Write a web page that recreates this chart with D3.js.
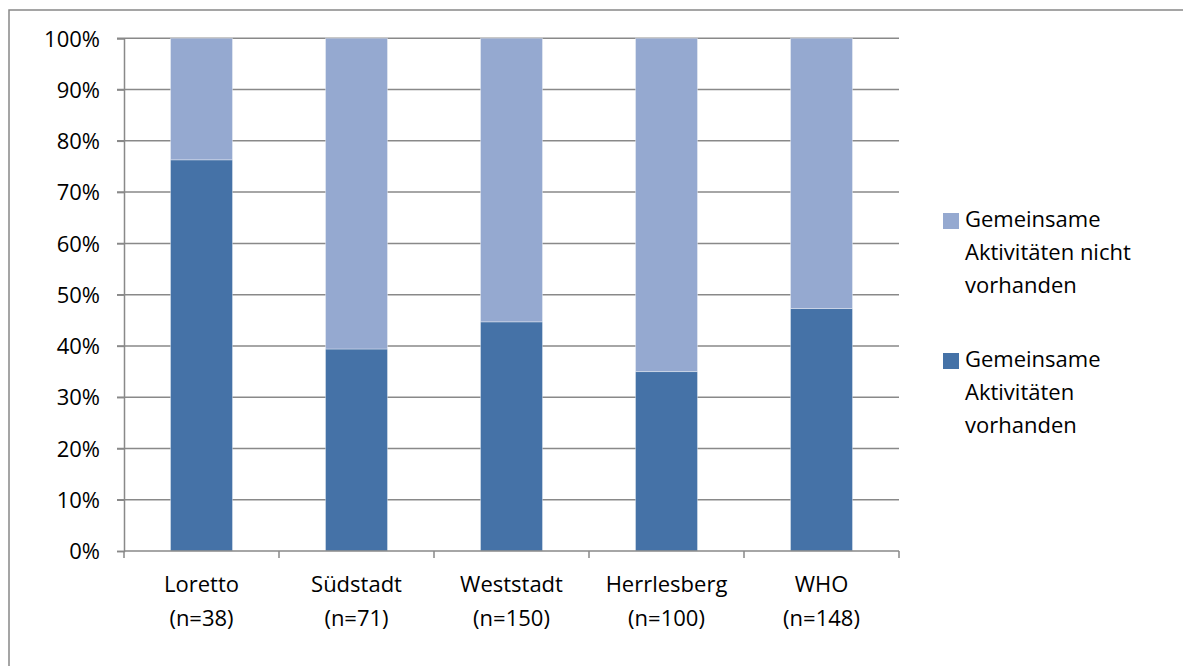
<!DOCTYPE html>
<html>
<head>
<meta charset="utf-8">
<script src="https://cdn.jsdelivr.net/npm/d3@7"></script>
<style>
html,body{margin:0;padding:0;background:#fff;}
svg{display:block;font-family:"Open Sans",sans-serif;}
</style>
</head>
<body>
<svg id="chart" width="1183" height="666"></svg>
<script>
const categories = ["Loretto", "Südstadt", "Weststadt", "Herrlesberg", "WHO"];
const categorySubLabels = ["(n=38)", "(n=71)", "(n=150)", "(n=100)", "(n=148)"];
const vorhanden = [0.763, 0.394, 0.447, 0.350, 0.473];
const nichtVorhanden = [0.237, 0.606, 0.553, 0.650, 0.527];
const seriesNames = ["Gemeinsame Aktivitäten vorhanden", "Gemeinsame Aktivitäten nicht vorhanden"];
const yTicks = [0, 0.1, 0.2, 0.3, 0.4, 0.5, 0.6, 0.7, 0.8, 0.9, 1.0];

(function () {
const colors = ["#4572A7", "#95A9D0"];
const svg = d3.select("#chart");

// outer frame (extends beyond right/bottom edges)
svg.append("rect").attr("x", 9).attr("y", 10).attr("width", 1200).attr("height", 700)
  .attr("fill", "none").attr("stroke", "#888").attr("stroke-width", 1.5);

const pLeft = 124, pRight = 899, pTop = 38.3, pBottom = 551;
const x = d3.scaleBand().domain(categories).range([pLeft, pRight]).paddingInner(0.6).paddingOuter(0.3);
const y = d3.scaleLinear().domain([0, 1]).range([pBottom, pTop]);

// gridlines
svg.append("g").selectAll("line").data(yTicks.filter(d => d > 0)).join("line")
  .attr("x1", pLeft - 7).attr("x2", pRight).attr("y1", d => y(d)).attr("y2", d => y(d))
  .attr("stroke", "#898989").attr("stroke-width", 1.5);

// stacked data
const data = categories.map((c, i) => ({cat: c, a: vorhanden[i], b: nichtVorhanden[i]}));
const stacked = d3.stack().keys(["a", "b"])(data);

svg.append("g").selectAll("g").data(stacked).join("g")
  .attr("fill", (d, i) => colors[i])
  .selectAll("rect").data(d => d).join("rect")
  .attr("x", d => x(d.data.cat))
  .attr("width", x.bandwidth())
  .attr("y", d => y(Math.min(1, d[1])))
  .attr("height", d => y(d[0]) - y(Math.min(1, d[1])))
  .attr("stroke", "rgba(255,255,255,0.35)").attr("stroke-width", 1);

// y axis
const yAxis = d3.axisLeft(y).tickValues(yTicks).tickFormat(d3.format(".0%")).tickSize(7).tickPadding(17);
const gy = svg.append("g").attr("transform", `translate(${pLeft},0)`).call(yAxis);
gy.select(".domain").attr("stroke", "#898989").attr("stroke-width", 1.5);
gy.selectAll(".tick line").attr("stroke", "#898989").attr("stroke-width", 1.5);
gy.selectAll("text").attr("font-size", 22).attr("fill", "#000").attr("font-family", "Open Sans").attr("dy", "0.35em");

// x axis
const gx = svg.append("g").attr("transform", `translate(0,${pBottom})`);
gx.append("line").attr("x1", pLeft).attr("x2", pRight).attr("stroke", "#898989").attr("stroke-width", 1.5);
const bounds = categories.map((c, i) => pLeft + i * (pRight - pLeft) / categories.length).concat([pRight]);
gx.selectAll("line.tk").data(bounds).join("line").attr("class", "tk")
  .attr("x1", d => d).attr("x2", d => d).attr("y1", 0).attr("y2", 7)
  .attr("stroke", "#898989").attr("stroke-width", 1.5);
const lab = gx.selectAll("text.cat").data(categories).join("text").attr("class", "cat")
  .attr("text-anchor", "middle").attr("font-size", 22).attr("fill", "#000");
lab.append("tspan").attr("x", d => x(d) + x.bandwidth() / 2).attr("y", 41).text(d => d);
lab.append("tspan").attr("x", d => x(d) + x.bandwidth() / 2).attr("y", 75).text((d, i) => categorySubLabels[i]);

// legend
const legendItems = [
  {color: colors[1], lines: ["Gemeinsame", "Aktivitäten nicht", "vorhanden"], y0: 213},
  {color: colors[0], lines: ["Gemeinsame", "Aktivitäten", "vorhanden"], y0: 353}
];
const lg = svg.append("g").selectAll("g").data(legendItems).join("g");
lg.append("rect").attr("x", 943).attr("y", d => d.y0).attr("width", 16).attr("height", 16).attr("fill", d => d.color);
lg.each(function(d) {
  const t = d3.select(this).append("text").attr("font-size", 22).attr("fill", "#000");
  d.lines.forEach((l, i) => t.append("tspan").attr("x", 965).attr("y", d.y0 + 14 + i * 33).text(l));
});
})();
</script>
</body>
</html>
